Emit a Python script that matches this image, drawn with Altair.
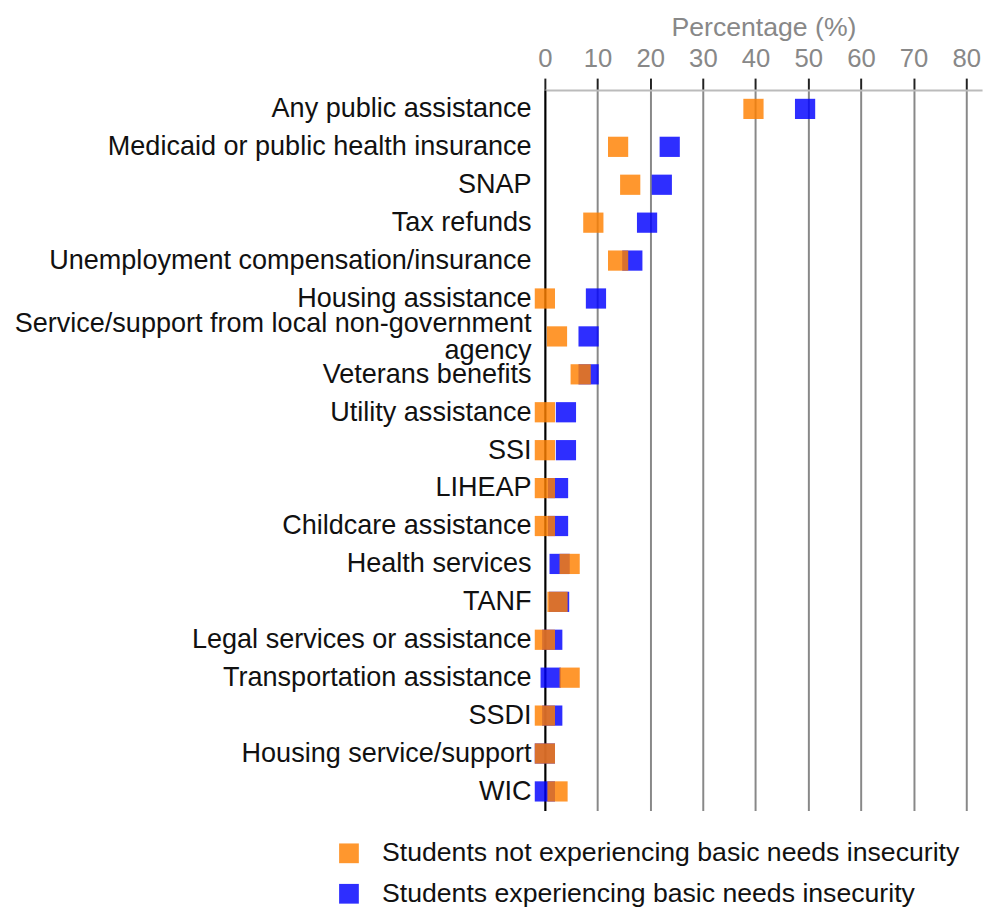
import altair as alt
import pandas as pd

categories = [
    "Any public assistance",
    "Medicaid or public health insurance",
    "SNAP",
    "Tax refunds",
    "Unemployment compensation/insurance",
    "Housing assistance",
    "Service/support from local non-government agency",
    "Veterans benefits",
    "Utility assistance",
    "SSI",
    "LIHEAP",
    "Childcare assistance",
    "Health services",
    "TANF",
    "Legal services or assistance",
    "Transportation assistance",
    "SSDI",
    "Housing service/support",
    "WIC",
]
not_insecure = [39.6, 13.9, 16.2, 9.2, 13.9, 0.0, 2.3, 6.8, 0.0, 0.0, 0.0, 0.0, 4.7, 2.4, 0.0, 4.7, 0.0, 0.0, 2.4]
insecure = [49.4, 23.7, 22.2, 19.4, 16.6, 9.7, 8.3, 8.3, 4.0, 4.0, 2.5, 2.5, 2.8, 2.7, 1.4, 1.1, 1.4, 0.0, 0.0]

series_names = [
    "Students not experiencing basic needs insecurity",
    "Students experiencing basic needs insecurity",
]
series_colors = ["#ff8000", "#0000ff"]

rows = []
# blue drawn first, orange on top
for c, v in zip(categories, insecure):
    rows.append({"category": c, "group": series_names[1], "value": v, "ord": 0})
for c, v in zip(categories, not_insecure):
    rows.append({"category": c, "group": series_names[0], "value": v, "ord": 1})
df = pd.DataFrame(rows)

wrapped = "Service/support from local non-government agency"
label_expr = (
    f"datum.label == '{wrapped}' ? "
    "['Service/support from local non-government', 'agency'] : datum.label"
)

chart = (
    alt.Chart(df)
    .mark_square(size=420, opacity=0.82)
    .encode(
        x=alt.X(
            "value:Q",
            scale=alt.Scale(domain=[0, 83], nice=False, zero=True),
            axis=alt.Axis(
                orient="top",
                title="Percentage (%)",
                values=[0, 10, 20, 30, 40, 50, 60, 70, 80],
                labelFontSize=26,
                labelColor="#888888",
                labelFont="Liberation Sans",
                titleFont="Liberation Sans",
                titleFontSize=27,
                titleFontWeight="normal",
                titleColor="#888888",
                titlePadding=4,
                tickColor="#222222",
                tickSize=12,
                tickWidth=2,
                labelPadding=7,
                domainColor="#bbbbbb",
                domainWidth=2,
                gridColor="#888888",
                gridWidth=2,
                labelFlush=False,
            ),
        ),
        y=alt.Y(
            "category:N",
            sort=categories,
            scale=alt.Scale(type="point", padding=0.5),
            axis=alt.Axis(
                title=None,
                labelFontSize=27.4,
                labelFont="Liberation Sans",
                labelColor="#111111",
                labelPadding=14,
                labelLimit=800,
                labelLineHeight=27,
                labelExpr=label_expr,
                labelOffset={"expr": f"datum.value == '{wrapped}' ? -13 : 0"},
                ticks=False,
                domainColor="#000000",
                domainWidth=2,
                gridColor="#bbbbbb",
                gridWidth=2,
            ),
        ),
        color=alt.Color(
            "group:N",
            scale=alt.Scale(domain=series_names, range=series_colors),
            legend=alt.Legend(
                title=None,
                orient="none",
                direction="vertical",
                legendX=-212,
                legendY=760,
                symbolType="square",
                symbolSize=400,
                symbolOpacity=0.82,
                symbolStrokeWidth=0,
                labelFontSize=27,
                labelFont="Liberation Sans",
                labelColor="#111111",
                labelOffset=20,
                labelLimit=900,
                rowPadding=13,
            ),
        ),
        order=alt.Order("ord:Q"),
    )
    .properties(
        width=443,
        height=730,
        padding={"left": 6, "top": 0, "right": 5, "bottom": 5},
    )
    .configure_view(strokeWidth=0)
)

chart.save("out.html", embed_options={"renderer": "svg", "actions": False})
